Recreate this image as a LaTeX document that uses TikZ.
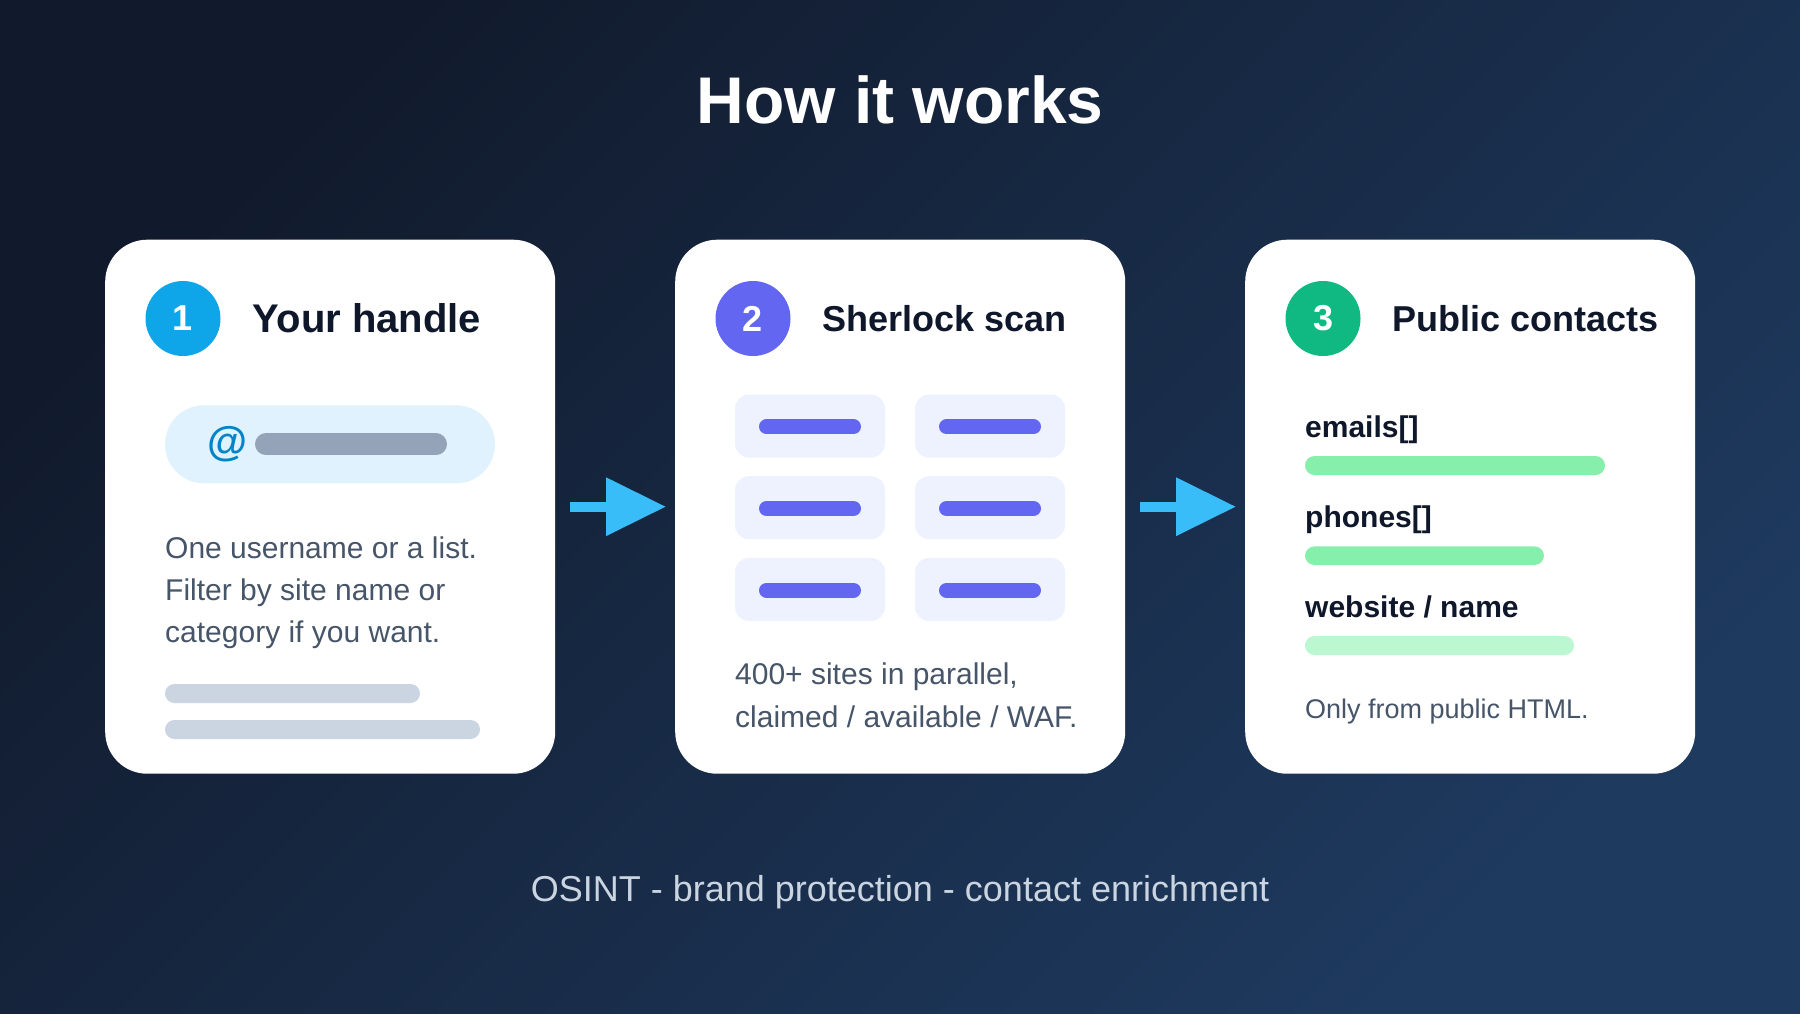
\documentclass[tikz,border=0pt]{standalone}
\usepackage{fontspec}
\setmainfont{Liberation Sans}
\usetikzlibrary{arrows.meta,positioning}
\definecolor{bgdark}{HTML}{111A2C}
\definecolor{bglight}{HTML}{1E3A5F}
\definecolor{inkhead}{HTML}{0F172A}
\definecolor{inkbody}{HTML}{475569}
\definecolor{skybadge}{HTML}{0EA5E9}
\definecolor{indigobadge}{HTML}{6366F1}
\definecolor{greenbadge}{HTML}{10B981}
\definecolor{pillfill}{HTML}{E0F2FE}
\definecolor{atink}{HTML}{0284C7}
\definecolor{handlebar}{HTML}{94A3B8}
\definecolor{linebar}{HTML}{CBD5E1}
\definecolor{tilefill}{HTML}{EEF2FF}
\definecolor{tileline}{HTML}{6366F1}
\definecolor{greenbar}{HTML}{86EFAC}
\definecolor{greenpale}{HTML}{BBF7D0}
\definecolor{arrowsky}{HTML}{38BDF8}
\definecolor{footink}{HTML}{CBD5E1}
\tikzset{
  card/.style={fill=white,rounded corners=42pt,minimum width=450pt,minimum height=534pt,anchor=north west,inner sep=0pt},
  badge/.style={circle,minimum size=75pt,inner sep=0pt,text=white,font=\fontsize{36}{36}\selectfont\bfseries},
  cardtitle/.style={inner sep=0pt,text=inkhead,font=\fontsize{#1}{40}\selectfont\bfseries},
  cardtitle/.default=36,
  bodytext/.style={anchor=base west,inner sep=0pt,text=inkbody,font=\fontsize{#1}{36}\selectfont},
  bodytext/.default=30,
  fieldtext/.style={anchor=base west,inner sep=0pt,text=inkhead,font=\fontsize{30}{36}\selectfont\bfseries},
  roundbar/.style={rounded corners=9.5pt},
  tile/.style={fill=tilefill,rounded corners=14pt,minimum width=150pt,minimum height=63pt,inner sep=0pt},
  tilebar/.style={tileline,line width=15pt,line cap=round},
  flowarrow/.style={arrowsky,line width=10pt,-{Triangle[length=60pt,width=56pt]},shorten <=15pt,shorten >=9pt}
}

\begin{document}
\begin{tikzpicture}[x=1pt,y=-1pt]
  \useasboundingbox (0,0) rectangle (1800,1013);
  \shade[top color=bgdark,bottom color=bglight,shading angle=45] (0,0) rectangle (1800,1013);

  \node[text=white,anchor=base,font=\fontsize{66}{70}\selectfont\bfseries] (heading) at (900,123) {How it works};

  % three cards
  \node[card] (card1) at (105,239.5) {};
  \node[card] (card2) at (675,239.5) {};
  \node[card] (card3) at (1245,239.5) {};

  \node[badge,fill=skybadge] (badge1) at ([xshift=78pt,yshift=-79pt]card1.north west) {1};
  \node[badge,fill=indigobadge] (badge2) at ([xshift=78pt,yshift=-79pt]card2.north west) {2};
  \node[badge,fill=greenbadge] (badge3) at ([xshift=78pt,yshift=-79pt]card3.north west) {3};
  \node[cardtitle=40,right=32pt of badge1] (title1) {Your handle};
  \node[cardtitle,right=32pt of badge2] (title2) {Sherlock scan};
  \node[cardtitle,right=32pt of badge3] (title3) {Public contacts};

  % card 1: handle field
  \node[fill=pillfill,rounded corners=39pt,minimum width=330pt,minimum height=78pt,inner sep=0pt] (handlepill) at (330,444.3) {};
  \node[text=atink,inner sep=0pt,font=\fontsize{41}{41}\selectfont\bfseries] (atsign) at (227,444) {@};
  \draw[handlebar,line width=22pt,line cap=round] (266,444.3) -- (436,444.3);
  \node[bodytext] (hint1) at (165,558) {One username or a list.};
  \node[bodytext] (hint2) at ([yshift=-42pt]hint1.base west) {Filter by site name or};
  \node[bodytext] (hint3) at ([yshift=-42pt]hint2.base west) {category if you want.};
  \fill[linebar,roundbar] (165,684) rectangle (420,703);
  \fill[linebar,roundbar] (165,720) rectangle (480,739);

  % card 2: grid of sites
  \foreach \col in {0,1}
    \foreach \row in {0,1,2} {
      \node[tile] (tile\col\row) at (810+180*\col,426+81.7*\row) {};
      \draw[tilebar] ([xshift=-43.5pt,yshift=-0.8pt]tile\col\row.center) -- ([xshift=43.5pt,yshift=-0.8pt]tile\col\row.center);
    }
  \node[bodytext] (scan1) at (735,684.5) {400+ sites in parallel,};
  \node[bodytext] (scan2) at ([yshift=-42.5pt]scan1.base west) {claimed / available / WAF.};

  % card 3: fields found
  \node[fieldtext] (emails) at (1305,437) {emails[]};
  \fill[greenbar,roundbar] (1305,456) rectangle (1605,475);
  \node[fieldtext] (phones) at (1305,527) {phones[]};
  \fill[greenbar,roundbar] (1305,546.4) rectangle (1544,565);
  \node[fieldtext] (website) at (1305,617.5) {website / name};
  \fill[greenpale,roundbar] (1305,636) rectangle (1574,655);
  \node[bodytext=27] (source) at (1305,718) {Only from public HTML.};

  \draw[flowarrow] (card1.east) -- (card2.west);
  \draw[flowarrow] (card2.east) -- (card3.west);

  \node[text=footink,anchor=base,font=\fontsize{36}{40}\selectfont] (tagline) at (900,901) {OSINT - brand protection - contact enrichment};
\end{tikzpicture}
\end{document}
